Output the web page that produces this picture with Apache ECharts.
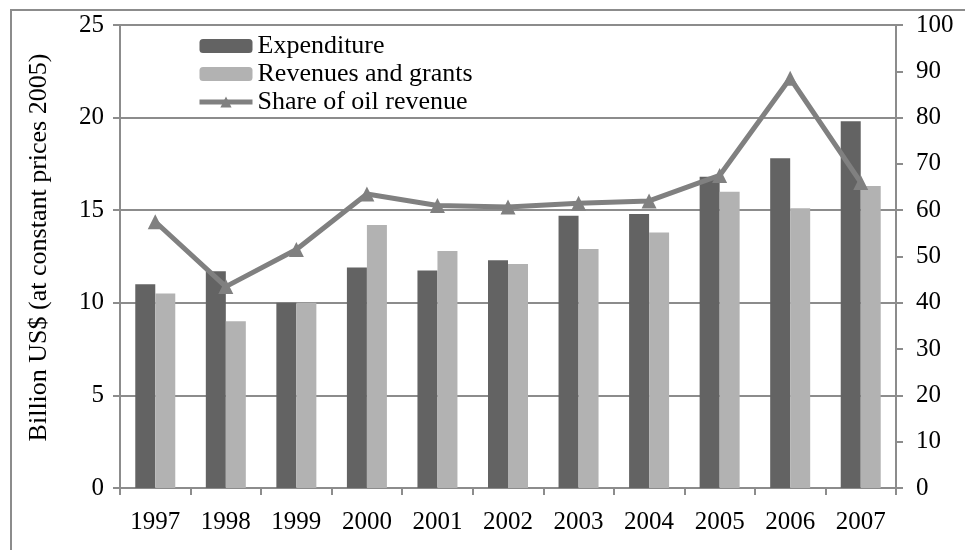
<!DOCTYPE html>
<html style="height: 100%">

<head>
    <meta charset="utf-8">
</head>

<body style="height: 100%;width: 100%;margin: 0;">
    <div id="container" style="height: 550px;width: 965px;"></div>
    <script type="text/javascript" src="https://cdn.jsdelivr.net/npm/echarts@6/dist/echarts.min.js"></script>
    <script type="text/javascript">
        var years = ['1997', '1998', '1999', '2000', '2001', '2002', '2003', '2004', '2005', '2006', '2007'];
        var expenditure = [11.0, 11.7, 10.0, 11.9, 11.75, 12.3, 14.7, 14.8, 16.8, 17.8, 19.8];
        var revenues = [10.5, 9.0, 10.0, 14.2, 12.8, 12.1, 12.9, 13.8, 16.0, 15.1, 16.3];
        var oilShare = [57.5, 43.5, 51.5, 63.5, 61, 60.7, 61.5, 62, 67.5, 88.5, 66];

        var dom = document.getElementById("container");
        var myChart = echarts.init(dom);
        var font = 'Liberation Serif';
        var gray = '#8c8c8c';

        var option = {
            animation: false,
            backgroundColor: '#fff',
            textStyle: { fontFamily: font },
            graphic: [{
                type: 'rect',
                shape: { x: 11, y: 10, width: 960, height: 545 },
                style: { fill: 'none', stroke: gray, lineWidth: 2 },
                silent: true
            }],
            grid: { left: 120, right: 69, top: 25, bottom: 62 },
            legend: {
                orient: 'vertical',
                left: 192,
                top: 27,
                itemWidth: 53,
                itemHeight: 14,
                itemGap: 0,
                lineStyle: { width: 5 },
                textStyle: { fontFamily: font, fontSize: 26, color: '#000', lineHeight: 28 },
                data: ['Expenditure', 'Revenues and grants', 'Share of oil revenue']
            },
            xAxis: {
                type: 'category',
                data: years,
                axisLine: { lineStyle: { color: gray, width: 2 } },
                axisTick: { show: true, length: 7, lineStyle: { color: gray, width: 2 } },
                axisLabel: { color: '#000', fontSize: 25, fontFamily: font, margin: 22 }
            },
            yAxis: [{
                type: 'value',
                min: 0,
                max: 25,
                interval: 5,
                name: 'Billion US$ (at constant prices 2005)',
                nameLocation: 'middle',
                nameGap: 68,
                nameTextStyle: { color: '#000', fontSize: 26, fontFamily: font, padding: [0, 0, 0, 18] },
                axisLine: { show: true, lineStyle: { color: gray, width: 2 } },
                axisTick: { show: true, length: 7, lineStyle: { color: gray, width: 2 } },
                axisLabel: { color: '#000', fontSize: 25, fontFamily: font, margin: 16 },
                splitLine: { show: true, lineStyle: { color: gray, width: 2 } }
            }, {
                type: 'value',
                min: 0,
                max: 100,
                interval: 10,
                position: 'right',
                axisLine: { show: true, lineStyle: { color: gray, width: 2 } },
                axisTick: { show: true, length: 7, lineStyle: { color: gray, width: 2 } },
                axisLabel: { color: '#000', fontSize: 25, fontFamily: font, margin: 20 },
                splitLine: { show: false }
            }],
            series: [{
                name: 'Expenditure',
                type: 'bar',
                data: expenditure,
                barWidth: 20,
                barGap: '0%',
                itemStyle: { color: '#636363' }
            }, {
                name: 'Revenues and grants',
                type: 'bar',
                data: revenues,
                barWidth: 20,
                itemStyle: { color: '#b2b2b2' }
            }, {
                name: 'Share of oil revenue',
                type: 'line',
                yAxisIndex: 1,
                data: oilShare,
                symbol: 'triangle',
                symbolSize: 15,
                lineStyle: { color: '#808080', width: 5 },
                itemStyle: { color: '#808080' }
            }]
        };

        myChart.setOption(option);
        window.onresize = myChart.resize;
    </script>
</body>

</html>
